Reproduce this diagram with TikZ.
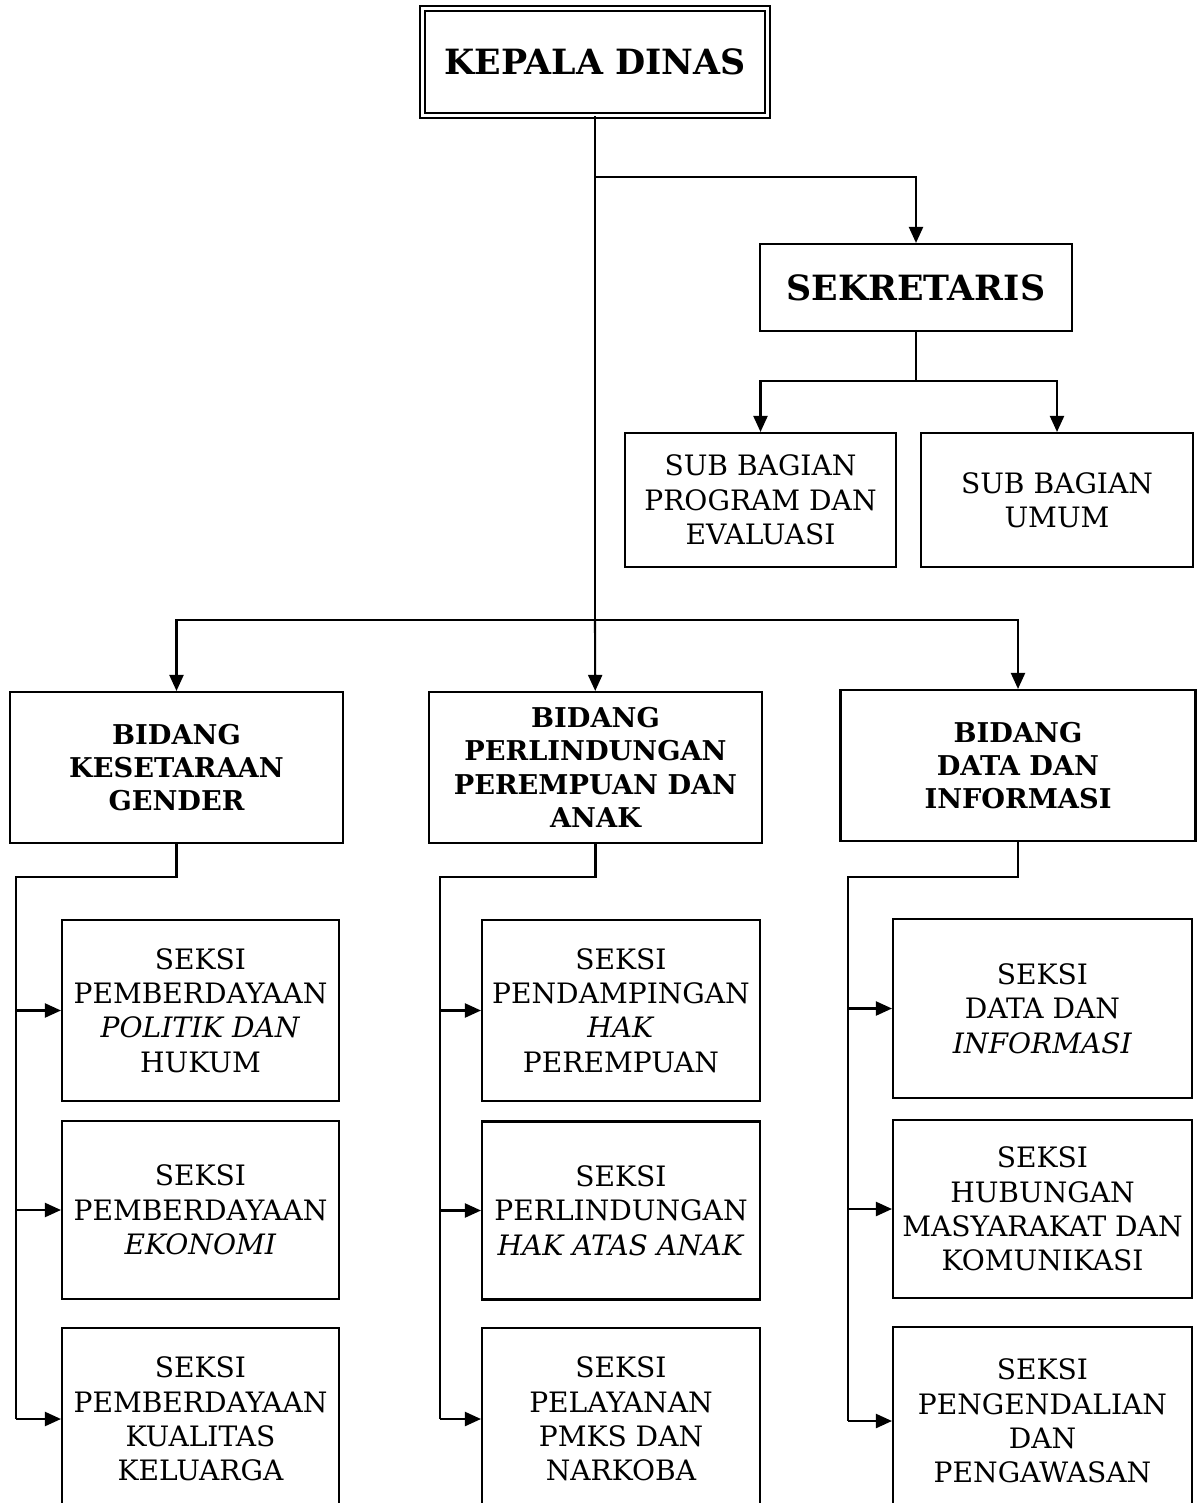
\documentclass[tikz,border=0pt]{standalone}
\usepackage{fontspec}
\setmainfont{DejaVu Serif}
\usetikzlibrary{positioning,arrows.meta,calc}

\begin{document}
\begin{tikzpicture}[x=0.02cm,y=-0.02cm,
    box/.style={rectangle, draw, line width=1.2pt, align=center,
        inner sep=2pt, font=\fontsize{16}{19.6}\selectfont},
    head/.style={box, font=\bfseries\fontsize{15.5}{19}\selectfont},
    chief/.style={box, font=\bfseries\fontsize{19.8}{24}\selectfont},
    link/.style={line width=1.2pt},
    arr/.style={link, -{Triangle[length=0.32cm,width=0.28cm]}}]

    \useasboundingbox (0,0) rectangle (1197,1503);
    \clip (0,0) rectangle (1197,1503);

    % top level
    \node[chief, double, line width=1.1pt, double distance=2pt,
        minimum width=6.9cm, minimum height=2.14cm] (kadis)
        at (595,62) {KEPALA DINAS};
    \node[chief, minimum width=6.24cm, minimum height=1.74cm] (sekr)
        at (916,287.5) {SEKRETARIS};
    \node[box, minimum width=5.42cm, minimum height=2.68cm] (subprog)
        at (760.5,500) {SUB BAGIAN\\PROGRAM DAN\\EVALUASI};
    \node[box, minimum width=5.44cm, minimum height=2.68cm] (subumum)
        at (1057,500) {SUB BAGIAN\\UMUM};

    % bidang
    \node[head, minimum width=6.66cm, minimum height=3.02cm] (bid1)
        at (176.5,767.5) {BIDANG\\KESETARAAN\\GENDER};
    \node[head, minimum width=6.66cm, minimum height=3.02cm] (bid2)
        at (595.5,767.5) {BIDANG\\PERLINDUNGAN\\PEREMPUAN DAN\\ANAK};
    \node[head, minimum width=7.1cm, minimum height=3.02cm] (bid3)
        at (1018,765.5) {BIDANG\\DATA DAN\\INFORMASI};

    % seksi
    \node[box, minimum width=5.54cm, minimum height=3.62cm] (s11)
        at (200.5,1010.5) {SEKSI\\PEMBERDAYAAN\\\textit{POLITIK DAN}\\HUKUM};
    \node[box, minimum width=5.54cm, minimum height=3.56cm] (s12)
        at (200.5,1210) {SEKSI\\PEMBERDAYAAN\\\textit{EKONOMI}};
    \node[box, minimum width=5.54cm, minimum height=3.64cm] (s13)
        at (200.5,1419) {SEKSI\\PEMBERDAYAAN\\KUALITAS\\KELUARGA};

    \node[box, minimum width=5.56cm, minimum height=3.62cm] (s21)
        at (621,1010.5) {SEKSI\\PENDAMPINGAN\\\textit{HAK}\\PEREMPUAN};
    \node[box, minimum width=5.56cm, minimum height=3.56cm] (s22)
        at (621,1210.5) {SEKSI\\PERLINDUNGAN\\\textit{HAK ATAS ANAK}};
    \node[box, minimum width=5.56cm, minimum height=3.64cm] (s23)
        at (621,1419) {SEKSI\\PELAYANAN\\PMKS DAN\\NARKOBA};

    \node[box, minimum width=5.98cm, minimum height=3.58cm] (s31)
        at (1042.5,1008.5) {SEKSI\\DATA DAN\\\textit{INFORMASI}};
    \node[box, minimum width=5.98cm, minimum height=3.56cm] (s32)
        at (1042.5,1209) {SEKSI\\HUBUNGAN\\MASYARAKAT DAN\\KOMUNIKASI};
    \node[box, minimum width=5.98cm, minimum height=3.76cm] (s33)
        at (1042.5,1421) {SEKSI\\PENGENDALIAN\\DAN\\PENGAWASAN};

    % junctions
    \coordinate (split) at (595,177);
    \coordinate (trunk) at (595,620);
    \coordinate (sekj) at (916,381);
    \coordinate (b1j) at (16,877);
    \coordinate (b2j) at (440,877);
    \coordinate (b3j) at (848,877);

    \draw[link] (kadis) -- (trunk);
    \draw[arr] (split) -| (sekr);
    \draw[link] (sekr) -- (sekj);
    \draw[arr] (sekj) -| (subprog);
    \draw[arr] (sekj) -| (subumum);

    \draw[arr] (trunk) -| (bid1);
    \draw[arr] (trunk) -- (bid2);
    \draw[arr] (trunk) -| (bid3);

    \draw[link] (bid1) |- (b1j) -- (b1j |- s13);
    \draw[link] (bid2) |- (b2j) -- (b2j |- s23);
    \draw[link] (bid3) |- (b3j) -- (b3j |- s33);

    \foreach \s in {s11,s12,s13}
        \draw[arr] (b1j |- \s) -- (\s);
    \foreach \s in {s21,s22,s23}
        \draw[arr] (b2j |- \s) -- (\s);
    \foreach \s in {s31,s32,s33}
        \draw[arr] (b3j |- \s) -- (\s);
\end{tikzpicture}
\end{document}
